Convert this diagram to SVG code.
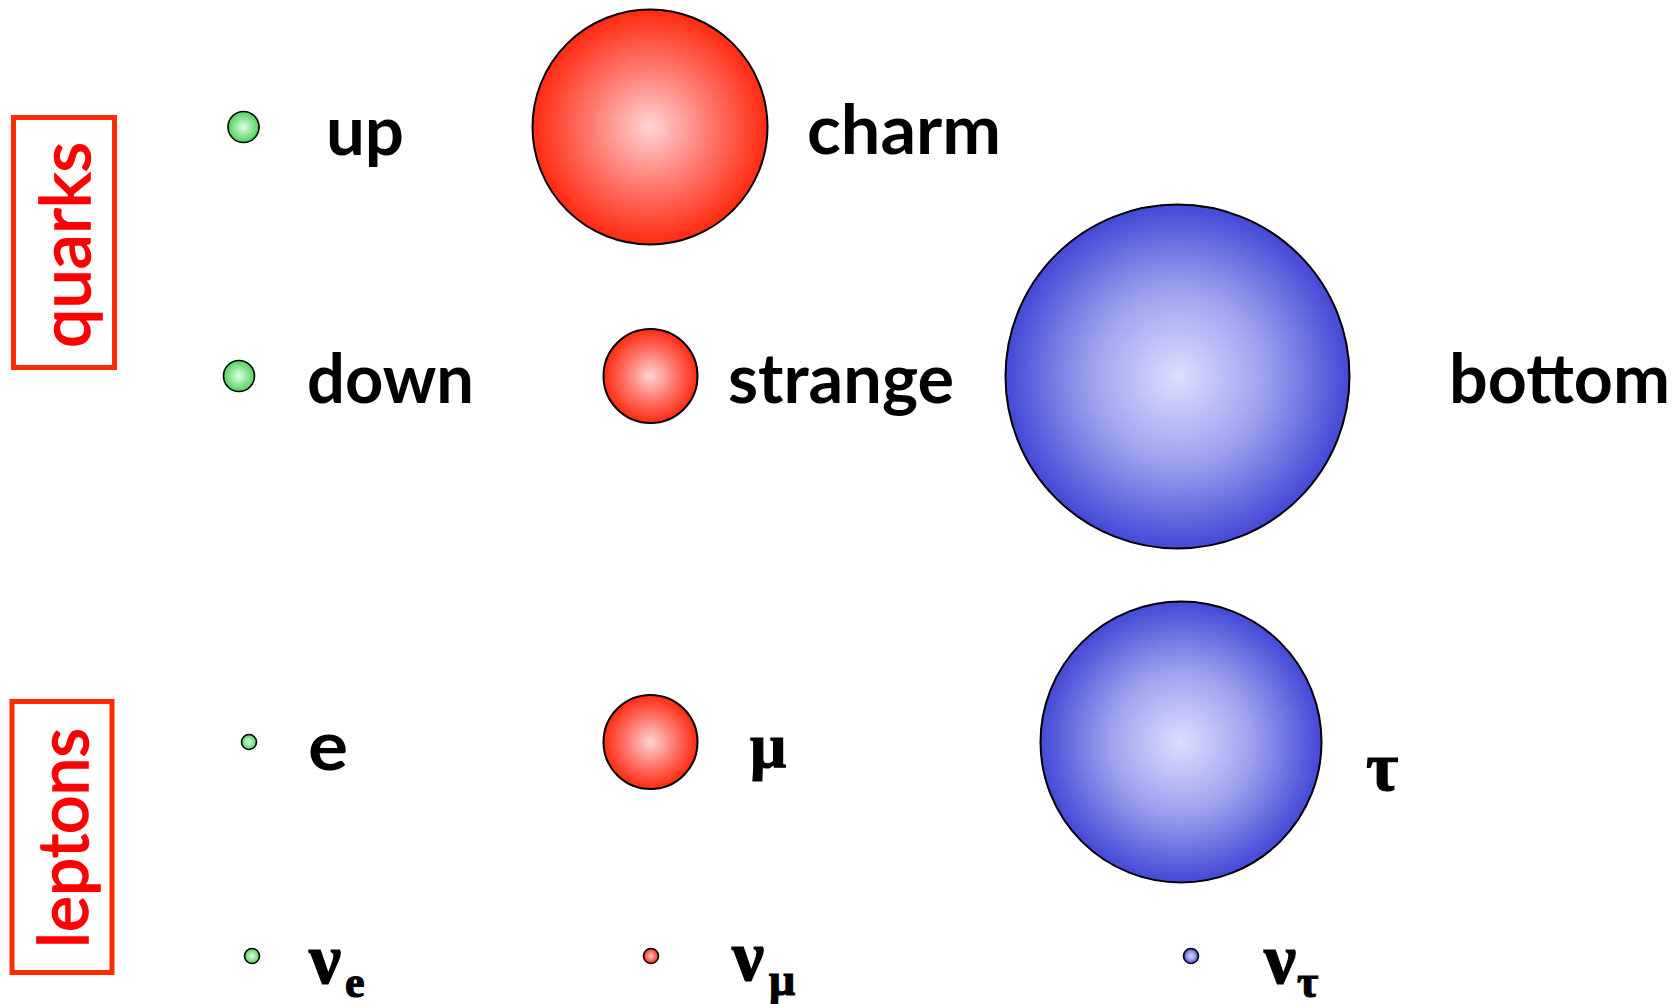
<svg xmlns="http://www.w3.org/2000/svg" width="1677" height="1004" viewBox="0 0 1677 1004">
<defs>
<radialGradient id="gRed" cx="50%" cy="50%" r="50%">
<stop offset="0" stop-color="#ffd4d4"/>
<stop offset="0.5" stop-color="#ff7a70"/>
<stop offset="1" stop-color="#ff2a10"/>
</radialGradient>
<radialGradient id="gBlue" cx="50%" cy="50%" r="50%">
<stop offset="0" stop-color="#dcdfff"/>
<stop offset="0.5" stop-color="#9ea2ee"/>
<stop offset="1" stop-color="#4448d6"/>
</radialGradient>
<radialGradient id="gGreen" cx="50%" cy="50%" r="50%">
<stop offset="0" stop-color="#e2ffe2"/>
<stop offset="1" stop-color="#4fd05e"/>
</radialGradient>
<style>
.ball{stroke:#000;stroke-width:2}
.small{stroke:#000;stroke-width:1.6}
.lbl{font-family:Lato,"Open Sans","Liberation Sans",sans-serif;font-weight:bold;font-size:68px;fill:#000}
.grk{font-family:"Liberation Serif","DejaVu Serif",serif;font-weight:bold;fill:#000;stroke:#000;stroke-width:1.2}
.cat{font-family:Lato,"Open Sans","Liberation Sans",sans-serif;font-size:70px;fill:#ff0000;stroke:#ff0000;stroke-width:1.6}
.box{fill:none;stroke:#ff2a00;stroke-width:5}
</style>
</defs>
<rect width="1677" height="1004" fill="#fff"/>
<g id="quarks">
<rect class="box" x="13.5" y="117.5" width="101" height="250"/>
<text class="cat" transform="translate(90,348) rotate(-90)" textLength="206" lengthAdjust="spacingAndGlyphs">quarks</text>
</g>
<g id="leptons">
<rect class="box" x="12" y="701.5" width="100" height="271"/>
<text class="cat" transform="translate(88,948) rotate(-90)" textLength="220" lengthAdjust="spacingAndGlyphs">leptons</text>
</g>
<g id="up">
<circle class="small" cx="243.5" cy="127" r="15.5" fill="url(#gGreen)"/>
<text class="lbl" x="326" y="155" textLength="78" lengthAdjust="spacingAndGlyphs">up</text>
</g>
<g id="charm">
<circle class="ball" cx="650" cy="127" r="117.5" fill="url(#gRed)"/>
<text class="lbl" x="807" y="154" textLength="194" lengthAdjust="spacingAndGlyphs">charm</text>
</g>
<g id="down">
<circle class="small" cx="239" cy="376" r="15.5" fill="url(#gGreen)"/>
<text class="lbl" x="307" y="403" textLength="167" lengthAdjust="spacingAndGlyphs">down</text>
</g>
<g id="strange">
<circle class="ball" cx="650.5" cy="376" r="47" fill="url(#gRed)"/>
<text class="lbl" x="728" y="403" textLength="226" lengthAdjust="spacingAndGlyphs">strange</text>
</g>
<g id="bottom">
<circle class="ball" cx="1177.5" cy="376.5" r="172" fill="url(#gBlue)"/>
<text class="lbl" x="1449" y="403" textLength="221" lengthAdjust="spacingAndGlyphs">bottom</text>
</g>
<g id="electron">
<circle class="small" cx="249" cy="742" r="7.5" fill="url(#gGreen)"/>
<text class="lbl" x="308" y="770" textLength="40" lengthAdjust="spacingAndGlyphs">e</text>
</g>
<g id="muon">
<circle class="ball" cx="650.5" cy="742" r="47" fill="url(#gRed)"/>
<text class="grk" x="750" y="767" font-size="64">μ</text>
</g>
<g id="tau">
<circle class="ball" cx="1181" cy="742" r="140.5" fill="url(#gBlue)"/>
<text class="grk" x="1366" y="790" font-size="70">τ</text>
</g>
<g id="nu_e">
<circle class="small" cx="252" cy="956" r="7.5" fill="url(#gGreen)"/>
<text class="grk" x="309" y="983" font-size="72">ν<tspan font-size="44" x="345" y="997">e</tspan></text>
</g>
<g id="nu_mu">
<circle class="small" cx="651" cy="956" r="7.5" fill="url(#gRed)"/>
<text class="grk" x="732" y="980" font-size="72">ν<tspan font-size="46" x="769" y="995">μ</tspan></text>
</g>
<g id="nu_tau">
<circle class="small" cx="1191" cy="956" r="7.5" fill="url(#gBlue)"/>
<text class="grk" x="1264" y="983" font-size="72">ν<tspan font-size="46" x="1297" y="997">τ</tspan></text>
</g>
<g id="connectors"/>
</svg>
